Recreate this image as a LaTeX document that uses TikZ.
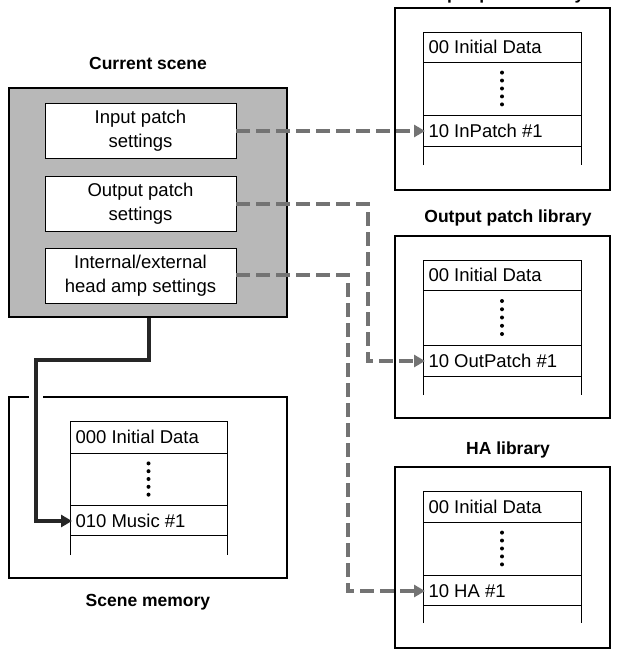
\documentclass[tikz,border=0pt]{standalone}
\usepackage{fontspec}
\setmainfont{Liberation Sans}
\usetikzlibrary{arrows.meta,calc}
\begin{document}
\begin{tikzpicture}[x=1pt,y=-1pt,
  txt/.style={font=\fontsize{18.5}{20}\selectfont},
  ttl/.style={font=\bfseries\fontsize{17.5}{20}\selectfont},
  outer/.style={draw,line width=1.8pt,fill=white},
  setbox/.style={draw,line width=0.8pt,fill=white,align=center,inner sep=0pt,minimum width=191pt,minimum height=55pt,font=\fontsize{18.5}{24}\selectfont},
  dasharrow/.style={draw=black!55,line width=4pt,dash pattern=on 14pt off 6pt,-{Triangle[length=11pt,width=12pt]}},
  solidarrow/.style={draw=black!85,line width=4pt,-{Triangle[length=11pt,width=12pt]}}]
\useasboundingbox (0,0) rectangle (618,651);
\clip (0,0) rectangle (618,651);
\fill[white] (0,0) rectangle (618,651);
% titles
\node[ttl] (ttlin) at (508,-5) {Input patch library};
\node[ttl] (ttlcs) at (148,63) {Current scene};
\node[ttl] (ttlout) at (508,218) {Output patch library};
\node[ttl] (ttlha) at (508,450) {HA library};
\node[ttl] (ttlsm) at (148,602) {Scene memory};
% current scene
\node[draw,line width=1.8pt,fill=black!28,minimum width=278pt,minimum height=229pt,inner sep=0pt] (cs) at (148,202.5) {};
\node[setbox] (inp) at (140.5,130.5) {Input patch\\settings};
\node[setbox] (outp) at (140.5,203.5) {Output patch\\settings};
\node[setbox] (int) at (140.5,275.5) {Internal/external\\head amp settings};
% library boxes
\node[outer,minimum width=215pt,minimum height=182pt,inner sep=0pt] (libin) at (502.5,99) {};
\node[outer,minimum width=215pt,minimum height=182pt,inner sep=0pt] (libout) at (502.5,327) {};
\node[outer,minimum width=215pt,minimum height=181pt,inner sep=0pt] (libha) at (502.5,557.5) {};
\node[outer,minimum width=278pt,minimum height=181pt,inner sep=0pt] (sm) at (148,487.5) {};
\newcommand{\mytable}[7]{%
  \draw[line width=0.8pt] (#1,#7) -- (#1,#3) -- (#2,#3) -- (#2,#7);
  \draw[line width=0.8pt] (#1,#4) -- (#2,#4) (#1,#5) -- (#2,#5) (#1,#6) -- (#2,#6);
  \foreach \k in {0,...,4} \fill ({(#1+#2)/2},{#4+(#5-#4)*(0.2+0.15*\k)}) circle (2pt);
}
\mytable{423}{581}{32}{62}{115}{146}{165}
\mytable{423}{581}{260}{290}{345}{376}{395}
\mytable{423}{581}{491}{522}{575}{605}{623}
\mytable{70}{227}{421}{453}{505}{535}{555}
% row texts
\node[txt,anchor=west] (a0) at (425,47) {00 Initial Data};
\node[txt,anchor=west] (a1) at (425,131) {10 InPatch \#1};
\node[txt,anchor=west] (b0) at (425,275) {00 Initial Data};
\node[txt,anchor=west] (b1) at (425,361) {10 OutPatch \#1};
\node[txt,anchor=west] (c0) at (425,507) {00 Initial Data};
\node[txt,anchor=west] (c1) at (425,591) {10 HA \#1};
\node[txt,anchor=west] (d0) at (72,437) {000 Initial Data};
\node[txt,anchor=west] (d1) at (72,521) {010 Music \#1};
\fill[white] (29,395.5) rectangle (43,398.5);
% connectors
\coordinate (o1) at (368,204);
\coordinate (o2) at (368,361);
\coordinate (h1) at (348,275);
\coordinate (h2) at (348,591);
\coordinate (s1) at (149,360);
\coordinate (s2) at (36,360);
\coordinate (s3) at (36,521);
\draw[dasharrow] (inp.east |- a1) -- (a1.west);
\draw[dasharrow] (outp.east |- o1) -- (o1) -- (o2) -- (b1.west);
\draw[dasharrow] (int.east |- h1) -- (h1) -- (h2) -- (c1.west);
\draw[solidarrow] (cs.south -| s1) -- (s1) -- (s2) -- (s3) -- (d1.west);
\end{tikzpicture}
\end{document}
